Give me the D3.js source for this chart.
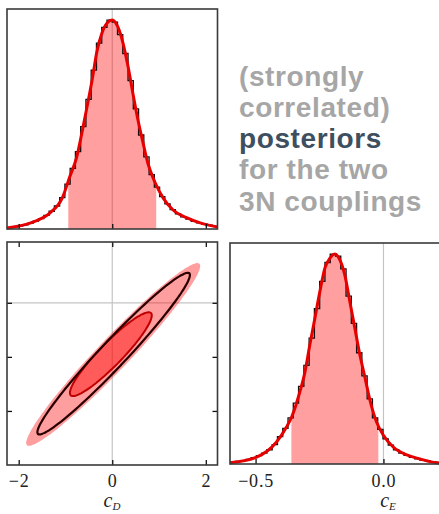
<!DOCTYPE html>
<html><head><meta charset="utf-8">
<script src="https://cdn.jsdelivr.net/npm/d3@7"></script>
<style>
html,body{margin:0;padding:0;background:#fff;}
svg{display:block;}
</style></head>
<body>
<script>
// ---------- data ----------
const cdDomain = [-2.25, 2.25];
const ceDomain = [-0.6, 0.225];
const cdTicks = [-2, 0, 2];
const ceTicks2D = [-0.4, -0.2, 0];
const ceTicks = [-0.5, 0.0];

// c_D marginal histogram (40 bins, relative height)
const cdBinStart = -2.25, cdBinWidth = 0.1125;
const cdHist = [0.007,0.010,0.015,0.020,0.028,0.038,0.050,0.065,0.085,0.11,
                0.15,0.215,0.29,0.37,0.49,0.62,0.76,0.89,0.965,1.0,
                0.99,0.93,0.84,0.71,0.575,0.45,0.345,0.26,0.2,0.155,
                0.12,0.093,0.072,0.058,0.047,0.037,0.03,0.024,0.018,0.013];
// c_D smooth density curve
const cdCurveX = [-2.25,-1.70,-1.33,-1.06,-0.91,-0.76,-0.65,-0.54,-0.43,-0.33,-0.22,-0.11,0,0.12,0.23,0.34,0.44,0.55,0.66,0.76,0.91,1.09,1.30,1.60,1.88,2.25];
const cdCurveY = [0.005,0.033,0.077,0.153,0.249,0.344,0.459,0.584,0.713,0.847,0.938,0.986,1.0,0.967,0.89,0.775,0.651,0.522,0.411,0.316,0.225,0.148,0.091,0.053,0.029,0.01];
const cdInterval = [-0.94, 0.94];

// c_E marginal histogram (40 bins, relative height)
const ceBinStart = -0.6, ceBinWidth = 0.020625;
const ceHist = [0.008,0.012,0.016,0.022,0.03,0.04,0.052,0.068,0.092,0.13,
                0.17,0.22,0.29,0.37,0.47,0.6,0.74,0.87,0.96,1.0,
                0.99,0.93,0.8,0.67,0.53,0.42,0.31,0.22,0.165,0.12,
                0.09,0.068,0.052,0.041,0.032,0.025,0.019,0.015,0.011,0.008];
const ceCurveX = [-0.60,-0.496,-0.418,-0.379,-0.359,-0.327,-0.307,-0.288,-0.268,-0.249,-0.229,-0.209,-0.19,-0.17,-0.151,-0.131,-0.112,-0.092,-0.072,-0.053,-0.027,-0.001,0.038,0.091,0.143,0.208,0.225];
const ceCurveY = [0.006,0.033,0.105,0.176,0.224,0.343,0.438,0.567,0.695,0.819,0.933,0.981,1.0,0.971,0.9,0.771,0.648,0.519,0.41,0.305,0.2,0.138,0.081,0.043,0.024,0.006,0.005];
const ceInterval = [-0.36, -0.02];

// joint contours: centre cD, centre cE, half-extent cD, half-extent cE, correlation
const contourNames = ["outer", "middle", "inner"];
const contourCD0 = [0.02, 0.03, -0.03];
const contourCE0 = [-0.191, -0.188, -0.19];
const contourA = [1.86, 1.63, 0.875];
const contourB = [0.338, 0.299, 0.155];
const contourRho = [0.968, 0.972, 0.925];

const textLines = ["(strongly", "correlated)", "posteriors", "for the two", "3N couplings"];
const textColors = ["#a6a6a6", "#a6a6a6", "#3e4f5f", "#a6a6a6", "#a6a6a6"];

// ---------- drawing ----------
const W = 439, H = 514;
const svg = d3.select("body").append("svg").attr("width", W).attr("height", H);

const RED = "#e60000";
const FILL = "rgba(255,0,0,0.375)";
const GRID = "#c4c4c4";
const FRAME = "#3a3a3a";
const serif = "'Liberation Serif','DejaVu Serif',serif";

const xD = d3.scaleLinear().domain(cdDomain).range([7, 217.5]);
const yTL = d3.scaleLinear().domain([0, 1.053]).range([229, 9]);
const yBL = d3.scaleLinear().domain(ceDomain).range([465, 242]);
const xE = d3.scaleLinear().domain(ceDomain).range([230, 441]);
const yBR = d3.scaleLinear().domain([0, 1.053]).range([464, 243]);

function marginal(g, x, y, binStart, binW, hist, cx, cy, interval, clipId, gridV) {
  const [x0, x1] = x.range(), [y0, y1] = y.range();
  g.append("line").attr("x1", x(gridV)).attr("x2", x(gridV)).attr("y1", y1).attr("y2", y0)
    .attr("stroke", GRID).attr("stroke-width", 1.2);
  const pts = cx.map((v, i) => [v, cy[i]]);
  svg.append("clipPath").attr("id", clipId).append("rect")
    .attr("x", x(interval[0])).attr("y", y1).attr("width", x(interval[1]) - x(interval[0])).attr("height", y0 - y1);
  const area = d3.area().x(d => x(d[0])).y0(y(0)).y1(d => y(d[1])).curve(d3.curveMonotoneX);
  g.append("path").attr("d", area(pts)).attr("fill", FILL).attr("clip-path", `url(#${clipId})`);
  const edges = hist.map((h, i) => [binStart + i * binW, h]);
  edges.push([binStart + hist.length * binW, hist[hist.length - 1]]);
  const step = d3.line().x(d => x(d[0])).y(d => y(d[1])).curve(d3.curveStepAfter);
  g.append("path").attr("d", step(edges)).attr("fill", "none").attr("stroke", "#111").attr("stroke-width", 1.3);
  const line = d3.line().x(d => x(d[0])).y(d => y(d[1])).curve(d3.curveMonotoneX);
  g.append("path").attr("d", line(pts)).attr("fill", "none").attr("stroke", RED).attr("stroke-width", 3)
    .attr("stroke-linejoin", "round");
}

function frame(x0, y0, x1, y1) {
  svg.append("rect").attr("x", x0).attr("y", y0).attr("width", x1 - x0).attr("height", y1 - y0)
    .attr("fill", "none").attr("stroke", FRAME).attr("stroke-width", 1.6);
}

function styleAxis(sel, showLabels) {
  sel.select(".domain").remove();
  sel.selectAll(".tick line").attr("stroke", "#111").attr("stroke-width", 1.3);
  sel.selectAll(".tick text").attr("font-family", serif).attr("font-size", 18)
    .attr("letter-spacing", 0.8).attr("fill", "#222");
  if (!showLabels) sel.selectAll(".tick text").remove();
}

// Top-left: c_D marginal
const gTL = svg.append("g");
marginal(gTL, xD, yTL, cdBinStart, cdBinWidth, cdHist, cdCurveX, cdCurveY, cdInterval, "clipTL", 0);
svg.append("g").attr("transform", "translate(0,229)")
  .call(d3.axisBottom(xD).tickValues(cdTicks).tickSize(-5)).call(s => styleAxis(s, false));
frame(7, 9, 217.5, 229);

// Bottom-left: joint
const gBL = svg.append("g");
gBL.append("line").attr("x1", xD(0)).attr("x2", xD(0)).attr("y1", 242).attr("y2", 465).attr("stroke", GRID).attr("stroke-width", 1.2);
gBL.append("line").attr("x1", 7).attr("x2", 217.5).attr("y1", yBL(0)).attr("y2", yBL(0)).attr("stroke", GRID).attr("stroke-width", 1.2);
function contourPts(i) {
  const ts = d3.range(0, 361, 3).map(d => d * Math.PI / 180);
  const s = Math.sqrt(1 - contourRho[i] * contourRho[i]);
  return ts.map(t => [contourCD0[i] + contourA[i] * Math.cos(t),
                      contourCE0[i] + contourB[i] * (contourRho[i] * Math.cos(t) + s * Math.sin(t))]);
}
const cline = d3.line().x(d => xD(d[0])).y(d => yBL(d[1])).curve(d3.curveCardinalClosed);
gBL.append("path").attr("d", cline(contourPts(0))).attr("fill", "rgba(255,0,0,0.38)");
gBL.append("path").attr("d", cline(contourPts(2))).attr("fill", "rgba(255,0,0,0.42)")
  .attr("stroke", "#c00000").attr("stroke-width", 2);
gBL.append("path").attr("d", cline(contourPts(1))).attr("fill", "none")
  .attr("stroke", "#2a0000").attr("stroke-width", 2.2);
svg.append("g").attr("transform", "translate(0,465)")
  .call(d3.axisBottom(xD).tickValues(cdTicks).tickSize(-5).tickPadding(9).tickFormat(d3.format("d")))
  .call(s => styleAxis(s, true));
svg.append("g").attr("transform", "translate(0,242)")
  .call(d3.axisTop(xD).tickValues(cdTicks).tickSize(-5)).call(s => styleAxis(s, false));
svg.append("g").attr("transform", "translate(7,0)")
  .call(d3.axisLeft(yBL).tickValues(ceTicks2D).tickSize(-5)).call(s => styleAxis(s, false));
svg.append("g").attr("transform", "translate(217.5,0)")
  .call(d3.axisRight(yBL).tickValues(ceTicks2D).tickSize(-5)).call(s => styleAxis(s, false));
frame(7, 242, 217.5, 465);

// Bottom-right: c_E marginal
const gBR = svg.append("g");
marginal(gBR, xE, yBR, ceBinStart, ceBinWidth, ceHist, ceCurveX, ceCurveY, ceInterval, "clipBR", 0);
svg.append("g").attr("transform", "translate(0,464)")
  .call(d3.axisBottom(xE).tickValues(ceTicks).tickSize(-5).tickPadding(10).tickFormat(d3.format(".1f")))
  .call(s => styleAxis(s, true));
frame(230, 243, 441, 464);

// axis labels
function axLabel(x, sub) {
  const t = svg.append("text").attr("x", x).attr("y", 507).attr("text-anchor", "middle")
    .attr("font-family", serif).attr("font-style", "italic").attr("fill", "#222");
  t.append("tspan").attr("font-size", 20).text("c");
  t.append("tspan").attr("font-size", 11).attr("dy", 2.5).text(sub);
}
axLabel(112, "D");
axLabel(388, "E");

// text block
const baselines = [86, 117, 148, 179, 210.5];
const tb = svg.append("g");
textLines.forEach((s, i) => {
  tb.append("text").attr("x", 239).attr("y", baselines[i])
    .attr("font-family", "'Liberation Sans', Arial, sans-serif").attr("font-weight", "bold")
    .attr("font-size", 28).attr("letter-spacing", 0.6).attr("fill", textColors[i]).text(s);
});
</script>
</body></html>
